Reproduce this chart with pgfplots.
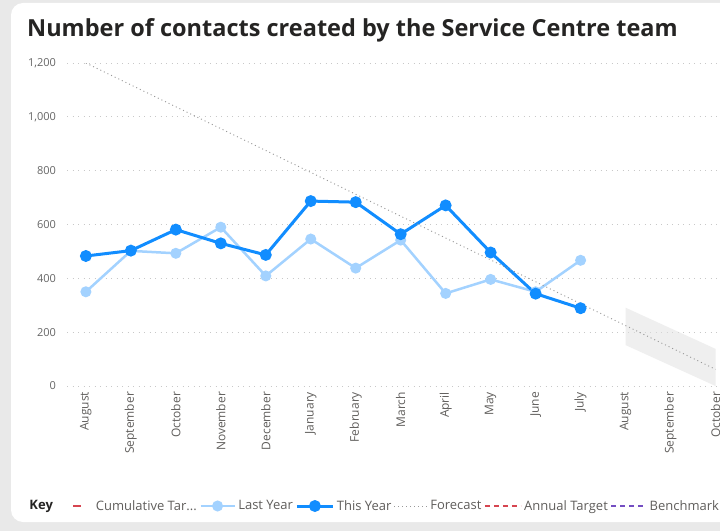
\documentclass[border=0pt]{standalone}
\usepackage{fontspec}
\setmainfont{Open Sans}
\usepackage{pgfplots}
\pgfplotsset{compat=1.18}
\definecolor{ty}{HTML}{118DFF}
\definecolor{ly}{HTML}{A3D2FF}
\definecolor{gridc}{HTML}{C8C8C8}
\definecolor{tickc}{HTML}{666666}
\definecolor{leg}{HTML}{605E5C}
\definecolor{ttl}{HTML}{252423}
\definecolor{redc}{HTML}{D64550}
\definecolor{purp}{HTML}{744EC2}
\definecolor{bgc}{HTML}{E9E9E9}
\definecolor{fc}{HTML}{999999}
\pgfplotsset{
  lyimg/.style={legend image code/.code={\draw[ly, line width=2.5pt, mark=*, mark size=4.2pt, mark options={solid, fill=ly, draw=none}, mark repeat=2, mark phase=2] plot coordinates {(0pt,0pt) (17pt,0pt) (34pt,0pt)};}},
  tyimg/.style={legend image code/.code={\draw[ty, line width=3pt, mark=*, mark size=4.4pt, mark options={solid, fill=ty, draw=none}, mark repeat=2, mark phase=2] plot coordinates {(0pt,0pt) (18pt,0pt) (36pt,0pt)};}},
  fcimg/.style={legend image code/.code={\draw[fc, line width=0.9pt, dash pattern=on 1pt off 3pt] (0pt,0pt) -- (33pt,0pt);}},
  atimg/.style={legend image code/.code={\draw[redc, line width=1.8pt, dash pattern=on 5pt off 4pt] (0pt,0pt) -- (36pt,0pt);}},
  bmimg/.style={legend image code/.code={\draw[purp, line width=1.8pt, dash pattern=on 5pt off 4pt] (0pt,0pt) -- (35pt,0pt);}},
  cuimg/.style={legend image code/.code={\path[draw=none] (0pt,0pt) -- (38pt,0pt); \draw[redc, line width=2pt] (18pt,0pt) -- (26pt,0pt);}},
}
\begin{document}
\begin{tikzpicture}[x=1pt,y=1pt]
\useasboundingbox (0,0) rectangle (720,531);
\fill[bgc] (0,0) rectangle (720,531);
\fill[white, rounded corners=12pt] (11,9) rectangle (760,528);
\node[anchor=base west, inner sep=0pt, font=\fontsize{23.5}{28}\selectfont\bfseries, text=ttl] at (27,494) {Number of contacts created by the Service Centre team};
\begin{axis}[
  at={(67pt,145pt)}, anchor=south west, scale only axis,
  width=653pt, height=323pt,
  xmin=-0.42, xmax=14.1, ymin=0, ymax=1200,
  axis line style={draw=none}, major tick length=0pt,
  ytick={0,200,...,1200}, ymajorgrids,
  major grid style={gridc, line width=0.9pt, dash pattern=on 1pt off 4.5pt},
  xtick={0,...,14},
  xticklabels={August,September,October,November,December,January,February,March,April,May,June,July,August,September,October},
  xticklabel style={rotate=90, anchor=east, font=\fontsize{12}{14}\selectfont, text=leg},
  xticklabel shift=2.5pt,
  yticklabel style={font=\fontsize{11}{12}\selectfont, text=tickc, xshift=-7.5pt},
  /pgf/number format/assume math mode=true,
  /pgf/number format/1000 sep={,},
  scaled y ticks=false,
  legend columns=-1,
  legend style={at={(-0.0613,-0.3715)}, anchor=west, draw=none, fill=none,
    inner sep=0pt, outer sep=0pt, column sep=2.5pt, text=leg,
    font=\fontsize{13}{15}\selectfont,
    nodes={inner sep=0pt}},
]
\addlegendimage{empty legend}
\addlegendentry{\textcolor{ttl}{\bfseries Key}}
\addlegendimage{cuimg}
\addlegendentry{Cumulative Tar...}

\addplot[forget plot, draw=none, fill=black!12, fill opacity=0.5] coordinates {(12,291) (14,138) (14,0) (12,152)} -- cycle;

\addplot[ly, line width=2.5pt, mark=*, mark size=4.2pt, mark options={solid, fill=ly, draw=none}, lyimg]
coordinates {(0,350) (1,502) (2,493) (3,590) (4,409) (5,546) (6,438) (7,542) (8,344) (9,396) (10,350) (11,467)};
\addlegendentry{Last Year}

\addplot[ty, line width=3pt, mark=*, mark size=4.4pt, mark options={solid, fill=ty, draw=none}, tyimg]
coordinates {(0,483) (1,503) (2,581) (3,530) (4,487) (5,687) (6,683) (7,564) (8,671) (9,496) (10,343) (11,289)};
\addlegendentry{This Year}

\addplot[fc, line width=0.9pt, dash pattern=on 1pt off 3pt, fcimg]
coordinates {(0,1200) (14,62)};
\addlegendentry{Forecast}

\addlegendimage{atimg}
\addlegendentry{Annual Target}
\addlegendimage{bmimg}
\addlegendentry{Benchmark}
\end{axis}
\end{tikzpicture}
\end{document}
